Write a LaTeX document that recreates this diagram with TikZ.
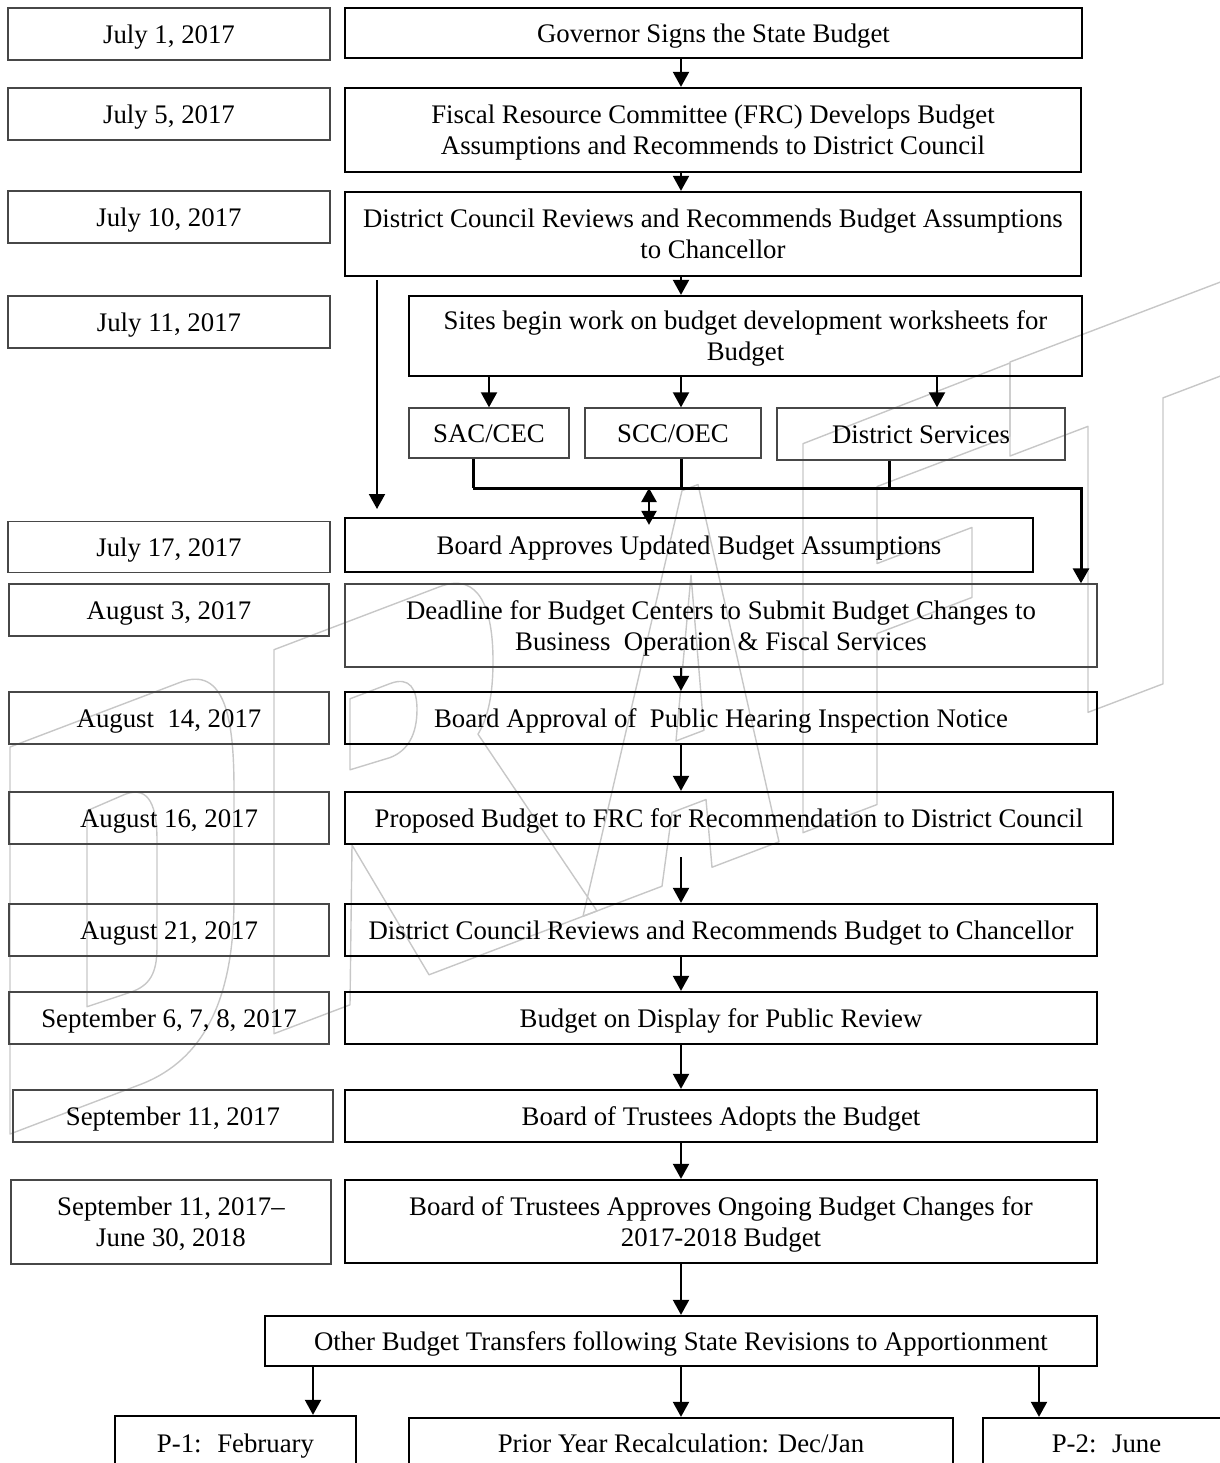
\documentclass[tikz,border=0pt]{standalone}
\usepackage{fontspec}
\setmainfont{Liberation Serif}
\usetikzlibrary{arrows.meta,positioning}

\tikzset{
  datebox/.style={draw=black!72, line width=0.7pt, inner sep=0pt, align=center, text height=9.1pt, text depth=0pt},
  stepbox/.style={draw=black, line width=1.15pt, inner sep=0pt, align=center, text height=9.1pt, text depth=0pt},
  twoline/.style={text height=24.5pt, text depth=0pt},
  arr/.style={line width=1pt, -{Triangle[length=7.5pt,width=8pt]}},
  bus/.style={line width=1.5pt},
  wmark/.style={draw=black!22, line width=0.7pt, line join=round}
}

\begin{document}
\begin{tikzpicture}[x=0.5pt,y=0.5pt,yscale=-1,font=\fontsize{13.4}{15.5}\selectfont]
\useasboundingbox (0,0) rectangle (1220,1463);

% DRAFT watermark (outline letters, slanted up)
\begin{scope}[shift={(10,1134)}, yslant=-0.38, yscale=-1]
  \draw[wmark] (0,0) -- (0,387) -- (170,387) .. controls (215,387) and (224,330) .. (224,260) -- (224,150) .. controls (224,60) and (200,0) .. (130,0) -- cycle;
  \draw[wmark] (77,98) -- (77,294) -- (115,296) .. controls (140,296) and (147,270) .. (147,238) -- (147,131) .. controls (147,105) and (140,95) .. (120,96) -- cycle;
  \draw[wmark] (264,0) -- (264,384) -- (430,384) .. controls (470,384) and (483,340) .. (483,290) .. controls (483,255) and (478,235) .. (468,222) -- (587,0) -- (419,0) -- (342,159) -- (340,0) -- cycle;
  \draw[wmark] (340,235) -- (340,306) -- (380,306) .. controls (400,306) and (407,290) .. (407,270) .. controls (407,245) and (398,232) .. (380,232) -- cycle;
  \draw[wmark] (573,0) -- (672,388) -- (688,388) -- (769,0) -- (702,0) -- (696,70) -- (662,70) -- (652,0) -- cycle;
  \draw[wmark] (666,140) -- (681,300) -- (694,140) -- cycle;
  \draw[wmark] (793,0) -- (793,389) -- (1000,391) -- (1000,318) -- (867,318) -- (867,241) -- (962,241) -- (962,171) -- (867,171) -- (867,0) -- cycle;
  \draw[wmark] (1078,12) -- (1078,298) -- (1000,298) -- (1000,392) -- (1260,392) -- (1260,298) -- (1153,298) -- (1153,12) -- cycle;
\end{scope}

% Date column
\node[datebox, minimum width=161pt, minimum height=26pt] (d1) at (169,34) {July 1, 2017};
\node[datebox, minimum width=161pt, minimum height=26pt] (d2) at (169,114) {July 5, 2017};
\node[datebox, minimum width=161pt, minimum height=26pt] (d3) at (169,217) {July 10, 2017};
\node[datebox, minimum width=161pt, minimum height=26pt] (d4) at (169,322) {July 11, 2017};
\node[datebox, minimum width=161pt, minimum height=25.5pt] (d5) at (169,547) {July 17, 2017};
\node[datebox, minimum width=160pt, minimum height=26pt] (d6) at (169,610) {August 3, 2017};
\node[datebox, minimum width=160pt, minimum height=26pt] (d7) at (169,718) {August~ 14, 2017};
\node[datebox, minimum width=160pt, minimum height=26pt] (d8) at (169,818) {August 16, 2017};
\node[datebox, minimum width=160pt, minimum height=26pt] (d9) at (169,930) {August 21, 2017};
\node[datebox, minimum width=160pt, minimum height=26pt] (d10) at (169,1018) {September 6, 7, 8, 2017};
\node[datebox, minimum width=160pt, minimum height=26pt] (d11) at (173,1116) {September 11, 2017};
\node[datebox, twoline, minimum width=160pt, minimum height=42pt] (d12) at (171,1222) {September 11, 2017--\\June 30, 2018};

% Step column
\node[stepbox, minimum width=368.5pt, minimum height=25pt] (r1) at (713.5,33) {Governor Signs the State Budget};
\node[stepbox, twoline, minimum width=368pt, minimum height=42pt] (r2) at (713,130) {Fiscal Resource Committee (FRC) Develops Budget\\Assumptions and Recommends to District Council};
\node[stepbox, twoline, minimum width=368pt, minimum height=42pt] (r3) at (713,234) {District Council Reviews and Recommends Budget Assumptions\\to Chancellor};
\node[stepbox, twoline, minimum width=336.5pt, minimum height=40pt] (r4) at (745.5,336) {Sites begin work on budget development worksheets for\\Budget};
\node[datebox, minimum width=80pt, minimum height=25pt] (s1) at (489,433) {SAC/CEC};
\node[datebox, minimum width=88pt, minimum height=25pt] (s2) at (673,433) {SCC/OEC};
\node[datebox, minimum width=144pt, minimum height=26pt] (s3) at (921,434) {District Services};
\node[stepbox, minimum width=344pt, minimum height=27pt] (r5) at (689,545) {Board Approves Updated Budget Assumptions};
\node[datebox, twoline, minimum width=376pt, minimum height=41.5pt] (r6) at (721,625.5) {Deadline for Budget Centers to Submit Budget Changes to\\Business~ Operation \& Fiscal Services};
\node[stepbox, minimum width=376pt, minimum height=26pt] (r7) at (721,718) {Board Approval of~ Public Hearing Inspection Notice};
\node[stepbox, minimum width=384pt, minimum height=26pt] (r8) at (729,818) {Proposed Budget to FRC for Recommendation to District Council};
\node[stepbox, minimum width=376pt, minimum height=26pt] (r9) at (721,930) {District Council Reviews and Recommends Budget to Chancellor};
\node[stepbox, minimum width=376pt, minimum height=26pt] (r10) at (721,1018) {Budget on Display for Public Review};
\node[stepbox, minimum width=376pt, minimum height=26pt] (r11) at (721,1116) {Board of Trustees Adopts the Budget};
\node[stepbox, twoline, minimum width=376pt, minimum height=41.5pt] (r12) at (721,1221.5) {Board of Trustees Approves Ongoing Budget Changes for\\2017-2018 Budget};
\node[stepbox, minimum width=416pt, minimum height=25pt] (r13) at (681,1341) {Other Budget Transfers following State Revisions to Apportionment};
\node[stepbox, minimum width=120.5pt, minimum height=27pt] (b1) at (235.5,1443) {P-1:~ February};
\node[stepbox, minimum width=272pt, minimum height=25pt] (b2) at (681,1443) {Prior Year Recalculation: Dec/Jan};
\node[stepbox, minimum width=123.5pt, minimum height=25pt] (b3) at (1106.5,1443) {P-2:~ June};

% Arrow columns
\coordinate (ax) at (681,0);
\coordinate (sx) at (937,0);
\coordinate (c1) at (473,0);
\coordinate (c3) at (889,0);
\coordinate (ce) at (1081,0);
\coordinate (dx) at (649,0);
\coordinate (bus) at (0,488);
\coordinate (p1x) at (313,0);
\coordinate (p2x) at (1039,0);
\coordinate (lft) at (377,280);
\coordinate (lfe) at (377,509);
\coordinate (r8a) at (681,857);

%Straight Lines
\draw[arr] (r1.south -| ax) -- (r2.north -| ax);
\draw[arr] (r2.south -| ax) -- (r3.north -| ax);
\draw[arr] (r3.south -| ax) -- (r4.north -| ax);
\draw[arr] (lft) -- (lfe);
\draw[arr] (r4.south -| s1.north) -- (s1.north);
\draw[arr] (r4.south -| ax) -- (s2.north -| ax);
\draw[arr] (r4.south -| sx) -- (s3.north -| sx);

% Collector from the three sites
\draw[bus] (s1.south -| c1) -- (bus -| c1);
\draw[bus] (s2.south -| ax) -- (bus -| ax);
\draw[bus] (s3.south -| c3) -- (bus -| c3);
\draw[bus, -{Triangle[length=7.5pt,width=8pt]}] (bus -| c1) -- (bus -| ce) -- (r6.north -| ce);
\draw[line width=1.2pt, {Triangle[length=7pt,width=7.5pt]}-{Triangle[length=7pt,width=7.5pt]}] (bus -| dx) -- ([yshift=4pt]r5.north -| dx);

\draw[arr] (r6.south -| ax) -- (r7.north -| ax);
\draw[arr] (r7.south -| ax) -- (r8.north -| ax);
\draw[arr] (r8a) -- (r9.north -| ax);
\draw[arr] (r9.south -| ax) -- (r10.north -| ax);
\draw[arr] (r10.south -| ax) -- (r11.north -| ax);
\draw[arr] (r11.south -| ax) -- (r12.north -| ax);
\draw[arr] (r12.south -| ax) -- (r13.north -| ax);
\draw[arr] (r13.south -| p1x) -- (b1.north -| p1x);
\draw[arr] (r13.south -| ax) -- (b2.north -| ax);
\draw[arr] (r13.south -| p2x) -- (b3.north -| p2x);

\end{tikzpicture}
\end{document}
